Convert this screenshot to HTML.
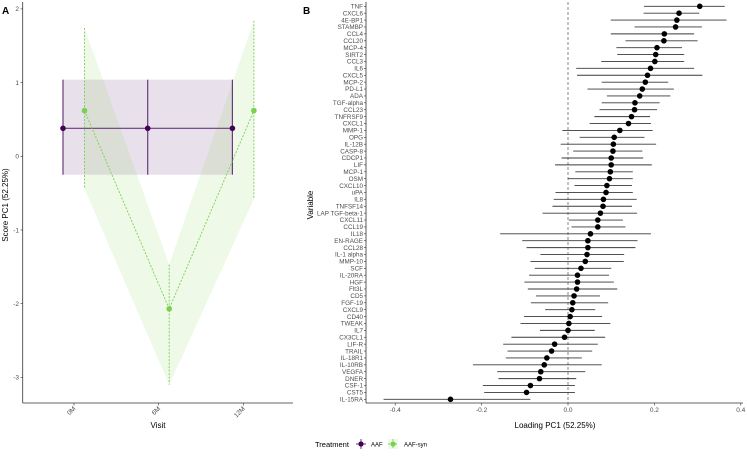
<!DOCTYPE html>
<html><head><meta charset="utf-8"><style>
body{margin:0;background:#fff;font-family:"Liberation Sans",sans-serif}
svg text{font-family:"Liberation Sans",sans-serif}
</style></head><body>
<svg id="c" width="747" height="452" viewBox="0 0 747 452"></svg>
<script>
// Panel A data
const visits=["0M","6M","12M"];
const aafMean=[0.38,0.38,0.38];
const aafLo=[-0.25,-0.25,-0.25];
const aafHi=[1.04,1.04,1.04];
const synMean=[0.62,-2.07,0.62];
const synLo=[-0.44,-3.1,-0.58];
const synHi=[1.74,-1.47,1.84];
const aTicks=[2,1,0,-1,-2,-3];
// Panel B data
const vars=["TNF","CXCL6","4E-BP1","STAMBP","CCL4","CCL20","MCP-4","SIRT2","CCL3","IL6","CXCL5","MCP-2","PD-L1","ADA","TGF-alpha","CCL23","TNFRSF9","CXCL1","MMP-1","OPG","IL-12B","CASP-8","CDCP1","LIF","MCP-1","OSM","CXCL10","uPA","IL8","TNFSF14","LAP TGF-beta-1","CXCL11","CCL19","IL18","EN-RAGE","CCL28","IL-1 alpha","MMP-10","SCF","IL-20RA","HGF","Flt3L","CD5","FGF-19","CXCL9","CD40","TWEAK","IL7","CX3CL1","LIF-R","TRAIL","IL-18R1","IL-10RB","VEGFA","DNER","CSF-1","CST5","IL-15RA"];
const loading=[.305,.257,.252,.249,.223,.222,.206,.203,.201,.191,.184,.179,.172,.166,.155,.154,.147,.140,.120,.107,.105,.104,.100,.100,.098,.096,.090,.088,.082,.081,.075,.069,.069,.052,.046,.046,.044,.040,.030,.022,.022,.020,.014,.011,.009,.005,.002,0,-.008,-.031,-.038,-.049,-.055,-.063,-.066,-.087,-.096,-.272];
const loLo=[.176,.175,.099,.154,.099,.133,.112,.114,.077,.019,.021,.078,.045,.090,.078,.073,.061,.050,-.013,.027,-.017,.012,-.015,-.030,.017,0,.015,-.029,-.033,-.036,-.059,.002,.008,-.157,-.106,-.096,-.064,-.087,-.077,-.090,-.101,-.093,-.074,-.086,-.053,-.102,-.110,-.065,-.131,-.150,-.140,-.144,-.220,-.164,-.161,-.197,-.194,-.427];
const loHi=[.363,.304,.367,.310,.292,.300,.264,.269,.269,.292,.311,.232,.245,.237,.212,.206,.190,.192,.196,.177,.204,.172,.174,.194,.150,.150,.148,.150,.159,.148,.160,.127,.133,.192,.161,.156,.130,.129,.100,.095,.106,.114,.074,.093,.063,.079,.098,.062,.086,.069,.056,.032,.078,.040,.019,.016,.016,-.087];
const bTicks=[-0.4,-0.2,0,0.2,0.4];

const svg=document.getElementById('c');const NS='http://www.w3.org/2000/svg';
function el(t,a,txt){const e=document.createElementNS(NS,t);for(const k in a)e.setAttribute(k,a[k]);if(txt!==undefined)e.textContent=txt;svg.appendChild(e);return e;}

// ---- Panel A
const ay=v=>156.3-v*73.7;
const ax=i=>74+i*84.7;
el('text',{x:2,y:14,'font-size':10,'font-weight':'bold',},'A');
// purple ribbon
let pts=visits.map((v,i)=>(ax(i)-11)+','+ay(aafHi[i])).concat(visits.map((v,i)=>(ax(i)-11)+','+ay(aafLo[i])).reverse());
let r=el('polygon',{points:pts.join(' '),fill:'#440154','fill-opacity':0.12});

pts=visits.map((v,i)=>(ax(i)+10.5)+','+ay(synHi[i])).concat(visits.map((v,i)=>(ax(i)+10.5)+','+ay(synLo[i])).reverse());
r=el('polygon',{points:pts.join(' '),fill:'#7ad151','fill-opacity':0.13});

// AAF line & errorbars
let l=el('polyline',{points:visits.map((v,i)=>(ax(i)-11)+','+ay(aafMean[i])).join(' '),fill:'none',stroke:'#6b3a7d','stroke-width':1.2});

visits.forEach((v,i)=>{const x=ax(i)-11;
 const e=el('line',{x1:x,x2:x,y1:ay(aafHi[i]),y2:ay(aafLo[i]),stroke:'#6b3a7d','stroke-width':1.2});
 
 const c=el('circle',{cx:x,cy:ay(aafMean[i]),r:2.8,fill:'#440154'});
 });
l=el('polyline',{points:visits.map((v,i)=>(ax(i)+10.5)+','+ay(synMean[i])).join(' '),fill:'none',stroke:'#7ad151','stroke-width':0.9,'stroke-dasharray':'2,1.5'});

visits.forEach((v,i)=>{const x=ax(i)+10.5;
 const e=el('line',{x1:x,x2:x,y1:ay(synHi[i]),y2:ay(synLo[i]),stroke:'#7ad151','stroke-width':0.9,'stroke-dasharray':'2,1.5'});
 
 const c=el('circle',{cx:x,cy:ay(synMean[i]),r:2.8,fill:'#7ad151'});
 });
// axes A
el('line',{x1:22.7,x2:22.7,y1:2,y2:403,stroke:'#333','stroke-width':0.8,});
el('line',{x1:22.7,x2:293,y1:403,y2:403,stroke:'#333','stroke-width':0.8,});
aTicks.forEach(t=>{const y=ay(t);
 const k=el('line',{x1:20.5,x2:22.7,y1:y,y2:y,stroke:'#333','stroke-width':0.6});
 const tx=el('text',{x:19,y:y+2.3,'font-size':6.5,fill:'#4d4d4d','text-anchor':'end'},String(t));});
visits.forEach((v,i)=>{const x=ax(i);
 const k=el('line',{x1:x,x2:x,y1:403,y2:405.5,stroke:'#333','stroke-width':0.6});
 const tx=el('text',{x:x+2,y:409,'font-size':6.5,fill:'#4d4d4d','text-anchor':'end',transform:`rotate(-45 ${x+2} 409)`},v);});
el('text',{x:158,y:428,'font-size':8,'text-anchor':'middle',},'Visit');
el('text',{x:0,y:0,'font-size':8,'text-anchor':'middle',transform:'translate(8 205) rotate(-90)',},'Score PC1 (52.25%)');

// ---- Panel B
const bx=v=>568+v*432;
const by=i=>6.3+i*6.895;
el('text',{x:303,y:14,'font-size':10,'font-weight':'bold',},'B');
el('line',{x1:bx(0),x2:bx(0),y1:2,y2:403,stroke:'#666','stroke-width':0.8,'stroke-dasharray':'3,2',});
vars.forEach((n,i)=>{const y=by(i);
 const e=el('line',{x1:bx(loLo[i]),x2:bx(loHi[i]),y1:y,y2:y,stroke:'#3a3a3a','stroke-width':0.9});
 
 const c=el('circle',{cx:bx(loading[i]),cy:y,r:2.8,fill:'#000'});
 
 const k=el('line',{x1:364,x2:366,y1:y,y2:y,stroke:'#333','stroke-width':0.6});
 
 const t=el('text',{x:363,y:y+2.2,'font-size':6.3,fill:'#4d4d4d','text-anchor':'end'},n);
 });
el('line',{x1:366,x2:366,y1:2,y2:403,stroke:'#333','stroke-width':0.8,});
el('line',{x1:366,x2:743,y1:403,y2:403,stroke:'#333','stroke-width':0.8,});
bTicks.forEach(t=>{const x=bx(t);
 const k=el('line',{x1:x,x2:x,y1:403,y2:405.5,stroke:'#333','stroke-width':0.6});
 const tx=el('text',{x:x,y:412,'font-size':6.5,fill:'#4d4d4d','text-anchor':'middle'},t===0?'0.0':String(t));});
el('text',{x:555,y:428,'font-size':8,'text-anchor':'middle',},'Loading PC1 (52.25%)');
el('text',{x:0,y:0,'font-size':8,'text-anchor':'middle',transform:'translate(313 205) rotate(-90)',},'Variable');

// Legend
el('text',{x:315,y:447,'font-size':7.5,},'Treatment');
el('line',{x1:356,x2:366,y1:444,y2:444,stroke:'#6b3a7d','stroke-width':1,});
el('line',{x1:361,x2:361,y1:439,y2:449,stroke:'#6b3a7d','stroke-width':1,});
el('circle',{cx:361,cy:444,r:2.6,fill:'#440154',});
el('text',{x:371,y:446.5,'font-size':6,},'AAF');
el('rect',{x:388,y:439,width:10,height:10,fill:'#7ad151','fill-opacity':0.13,});
el('line',{x1:388,x2:398,y1:444,y2:444,stroke:'#7ad151','stroke-width':0.9,'stroke-dasharray':'2,1.5',});
el('line',{x1:393,x2:393,y1:439,y2:449,stroke:'#7ad151','stroke-width':0.9,'stroke-dasharray':'2,1.5',});
el('circle',{cx:393,cy:444,r:2.6,fill:'#7ad151',});
el('text',{x:404,y:446.5,'font-size':6,},'AAF-syn');
</script>
</body></html>
